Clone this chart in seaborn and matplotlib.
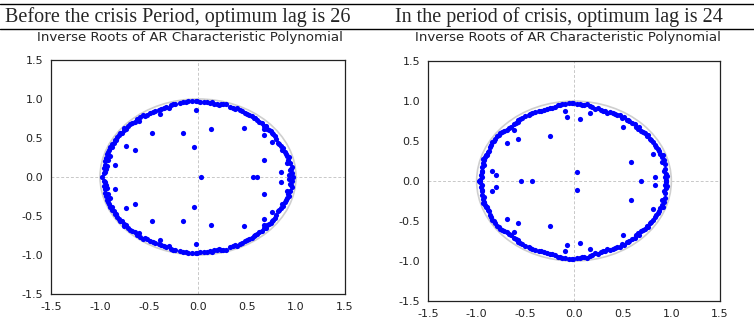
import matplotlib
matplotlib.use("Agg")
import matplotlib.pyplot as plt
import matplotlib.patches as patches
from matplotlib.lines import Line2D
import numpy as np
import pandas as pd
import seaborn as sns

# inverse roots: upper half plane only,
# the lower half are the complex conjugates
pre_up_re = [
    -0.06, -0.10, -0.15, -0.18, -0.23, -0.28, -0.33, -0.35, -0.40, -0.44, -0.49, -0.52,
    -0.56, -0.59, -0.62, -0.64, -0.67, -0.71, -0.73, -0.76, -0.78, -0.81, -0.83, -0.84,
    -0.86, -0.88, -0.90, -0.91, -0.92, -0.93, -0.94, -0.95, -0.95, -0.96, -0.95, -0.96,
    -0.02, -0.12, -0.26, -0.30, -0.38, -0.46, -0.54, -0.60, -0.69, -0.75, -0.80, -0.85,
    -0.88, -0.90, -0.92, -0.93, -0.94,
    -0.47, -0.155, -0.036, -0.73, -0.64, -0.845, -0.025, -0.39,
    -0.01, 0.02, 0.06, 0.09, 0.12, 0.16, 0.19, 0.23, 0.26, 0.29, 0.33, 0.36,
    0.40, 0.43, 0.48, 0.52, 0.55, 0.58, 0.62, 0.65, 0.67, 0.70, 0.74, 0.75,
    0.79, 0.80, 0.82, 0.85, 0.87, 0.89, 0.91, 0.92, 0.94, 0.96, 0.94, 0.96,
    0.14, 0.21, 0.38, 0.45, 0.50, 0.57, 0.60, 0.69, 0.72, 0.77, 0.83, 0.86,
    0.90, 0.93, 0.91, 0.95, 0.93,
    0.134, 0.47, 0.67, 0.67, 0.76, 0.67, 0.845,
]
pre_up_im = [
    0.98, 0.97, 0.96, 0.95, 0.93, 0.92, 0.90, 0.88, 0.86, 0.84, 0.82, 0.80,
    0.79, 0.77, 0.74, 0.71, 0.69, 0.65, 0.62, 0.60, 0.57, 0.54, 0.51, 0.48,
    0.44, 0.42, 0.39, 0.35, 0.32, 0.29, 0.24, 0.20, 0.16, 0.12, 0.07, 0.05,
    0.97, 0.96, 0.94, 0.88, 0.87, 0.83, 0.78, 0.72, 0.68, 0.63, 0.57, 0.47,
    0.38, 0.27, 0.22, 0.14, 0.10,
    0.57, 0.56, 0.39, 0.40, 0.35, 0.15, 0.86, 0.81,
    0.97, 0.96, 0.96, 0.96, 0.95, 0.94, 0.93, 0.94, 0.94, 0.93, 0.90, 0.89,
    0.88, 0.86, 0.82, 0.80, 0.78, 0.75, 0.71, 0.69, 0.65, 0.62, 0.59, 0.56,
    0.52, 0.49, 0.44, 0.40, 0.37, 0.32, 0.27, 0.22, 0.18, 0.13, 0.085, 0.05,
    0.96, 0.92, 0.87, 0.84, 0.81, 0.76, 0.73, 0.66, 0.60, 0.55, 0.42, 0.35,
    0.30, 0.25, 0.18, 0.10, 0.02,
    0.61, 0.63, 0.54, 0.62, 0.45, 0.22, 0.065,
]
pre_real = [-0.98, 0.03, 0.56, 0.60, 0.967]

crisis_up_re = [
    -0.055, -0.09, -0.12, -0.16, -0.19, -0.225, -0.28, -0.31, -0.36, -0.40, -0.43, -0.465,
    -0.50, -0.53, -0.57, -0.58, -0.62, -0.65, -0.69, -0.72, -0.755, -0.79, -0.81, -0.84,
    -0.86, -0.875, -0.89, -0.91, -0.92, -0.93, -0.94, -0.95, -0.96, -0.95, -0.97,
    -0.02, -0.14, -0.25, -0.34, -0.45, -0.55, -0.60, -0.67, -0.74, -0.77, -0.82, -0.85,
    -0.88, -0.90, -0.93, -0.92, -0.94,
    -0.089, -0.072, -0.243, -0.577, -0.687, -0.618, -0.84, -0.806,
    -0.007, 0.03, 0.06, 0.10, 0.13, 0.18, 0.215, 0.25, 0.28, 0.32, 0.335, 0.37,
    0.40, 0.44, 0.47, 0.51, 0.54, 0.57, 0.625, 0.64, 0.66, 0.69, 0.73, 0.76,
    0.78, 0.81, 0.84, 0.86, 0.88, 0.90, 0.92, 0.93, 0.94, 0.95, 0.93, 0.95,
    0.08, 0.16, 0.30, 0.42, 0.49, 0.56, 0.60, 0.67, 0.71, 0.75, 0.79, 0.83,
    0.87, 0.91, 0.90, 0.92, 0.96,
    0.062, 0.167, 0.506, 0.581, 0.027, 0.816, 0.837,
]
crisis_up_im = [
    0.97, 0.96, 0.96, 0.945, 0.93, 0.915, 0.90, 0.89, 0.88, 0.86, 0.85, 0.83,
    0.81, 0.79, 0.765, 0.74, 0.71, 0.67, 0.64, 0.63, 0.60, 0.56, 0.53, 0.49,
    0.42, 0.38, 0.33, 0.30, 0.26, 0.22, 0.17, 0.13, 0.08, 0.05, 0.01,
    0.97, 0.95, 0.91, 0.87, 0.84, 0.78, 0.72, 0.66, 0.61, 0.57, 0.50, 0.45,
    0.36, 0.32, 0.28, 0.20, 0.11,
    0.87, 0.80, 0.56, 0.52, 0.47, 0.64, 0.13, 0.07,
    0.97, 0.965, 0.96, 0.945, 0.965, 0.93, 0.90, 0.915, 0.89, 0.875, 0.85, 0.86,
    0.85, 0.83, 0.82, 0.80, 0.765, 0.75, 0.715, 0.68, 0.65, 0.63, 0.60, 0.58,
    0.53, 0.49, 0.43, 0.40, 0.34, 0.30, 0.26, 0.21, 0.15, 0.09, 0.05, 0.01,
    0.95, 0.94, 0.88, 0.84, 0.79, 0.76, 0.72, 0.67, 0.61, 0.56, 0.51, 0.45,
    0.37, 0.32, 0.24, 0.12, 0.06,
    0.78, 0.85, 0.68, 0.235, 0.115, 0.344, 0.05,
]
crisis_real = [-0.977, -0.543, -0.427, 0.69]

headings = ["Before the crisis Period, optimum lag is 26",
            "In the period of crisis, optimum lag is 24"]
subtitle = "Inverse Roots of AR Characteristic Polynomial"
ticks = [-1.5, -1.0, -0.5, 0.0, 0.5, 1.0, 1.5]


def roots_frame(up_re, up_im, real):
    re = list(up_re) + list(up_re) + list(real)
    im = list(up_im) + [-v for v in up_im] + [0.0] * len(real)
    return pd.DataFrame({"re": re, "im": im})


def draw_roots(ax, df):
    ax.axhline(0, color="#c8c8c8", lw=0.7, ls=(0, (3, 2)), zorder=1)
    ax.axvline(0, color="#c8c8c8", lw=0.7, ls=(0, (3, 2)), zorder=1)
    ax.add_patch(patches.Circle((0, 0), 1.0, fill=False, ec="#cfcfcf", lw=1.2, zorder=1))
    sns.scatterplot(data=df, x="re", y="im", color="#0000ff", s=14,
                    linewidth=0, ax=ax, zorder=3, legend=False)
    ax.set_xlim(-1.5, 1.5)
    ax.set_ylim(-1.5, 1.5)
    ax.set_xticks(ticks)
    ax.set_yticks(ticks)
    ax.set_xticklabels(["%.1f" % t for t in ticks])
    ax.set_yticklabels(["%.1f" % t for t in ticks])
    ax.set_xlabel("")
    ax.set_ylabel("")
    ax.tick_params(direction="out", length=3, width=0.8, labelsize=8, pad=2.5,
                   colors="#222222")
    for sp in ax.spines.values():
        sp.set_color("#222222")
        sp.set_linewidth(0.9)


sns.set_style("white")
plt.rcParams["font.family"] = ["DejaVu Sans"]

fig = plt.figure(figsize=(7.54, 3.22), dpi=100)
ax1 = fig.add_axes([0.0676, 0.087, 0.390, 0.7267])
ax2 = fig.add_axes([0.5676, 0.0652, 0.3873, 0.745])

draw_roots(ax1, roots_frame(pre_up_re, pre_up_im, pre_real))
draw_roots(ax2, roots_frame(crisis_up_re, crisis_up_im, crisis_real))

# rules of the table the charts sit in
fig.add_artist(Line2D([0, 1], [1 - 4 / 322, 1 - 4 / 322], color="black", lw=1.0))
fig.add_artist(Line2D([0, 1], [1 - 29 / 322, 1 - 29 / 322], color="black", lw=1.0))

fig.text(5 / 754, 1 - 17 / 322, headings[0], family="Liberation Serif",
         fontsize=14.5, va="center", ha="left")
fig.text(395 / 754, 1 - 17 / 322, headings[1], family="Liberation Serif",
         fontsize=14.5, va="center", ha="left")
fig.text(37 / 754, 1 - 38 / 322, subtitle, fontsize=9.6, va="center", ha="left")
fig.text(415 / 754, 1 - 38 / 322, subtitle, fontsize=9.6, va="center", ha="left")

fig.savefig("out.png", dpi=100)
